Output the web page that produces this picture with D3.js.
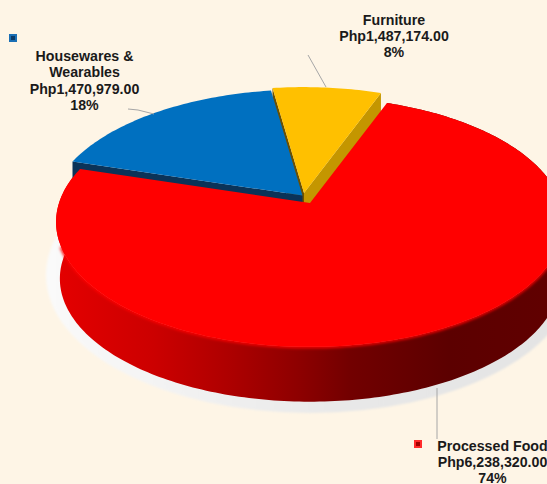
<!DOCTYPE html>
<html><head><meta charset="utf-8">
<script src="https://cdn.jsdelivr.net/npm/d3@7"></script>
<style>html,body{margin:0;padding:0;background:#fef5e6;overflow:hidden}svg{display:block}</style>
</head><body><svg id="c" width="547" height="484"></svg>
<script>
const categories = ["Processed Food", "Housewares & Wearables", "Furniture"];
const shares = [74, 18, 8];
const amounts = ["Php6,238,320.00", "Php1,470,979.00", "Php1,487,174.00"];
const percentLabels = ["74%", "18%", "8%"];
const topColors = ["#ff0000", "#0070c0", "#ffc000"];

const W = 547, H = 484;
const svg = d3.select("#c");
const defs = svg.append("defs");

// perspective disc
const apex = [310, 203], sx = 251, sy = 122, k = 0.152, depth = 57, shrink = 0.985;
const rad = d => d * Math.PI / 180;
function project(a, off, bottom) {
  const s = Math.sin(a), c = Math.cos(a), d = 1 + k * c;
  const f = bottom ? shrink : 1;
  return [apex[0] + off[0] + f * sx * s / d,
          apex[1] + off[1] - f * sy * c / d + (bottom ? depth : 0)];
}
const line = d3.line();
const pie = d3.pie().sort(null).startAngle(rad(20.5)).endAngle(rad(380.5));
const arcs = pie(shares);
const offsets = [[0, 0], [-7.5, -7.5], [-6, -10]];

function rim(a0, a1, off, bottom) {
  const n = Math.max(8, Math.ceil(Math.abs(a1 - a0) / rad(1)));
  return d3.range(n + 1).map(i => project(a0 + (a1 - a0) * i / n, off, bottom));
}
function topPath(i) {
  const a = arcs[i], o = offsets[i];
  return line([[apex[0] + o[0], apex[1] + o[1]], ...rim(a.startAngle, a.endAngle, o, false)]) + "Z";
}
function radialWall(angle, off) {
  const p0 = [apex[0] + off[0], apex[1] + off[1]], p1 = project(angle, off, false);
  return line([p0, p1, [p1[0], p1[1] + depth], [p0[0], p0[1] + depth]]) + "Z";
}

// gradients & filters
const wallGrad = defs.append("linearGradient").attr("id", "wall")
  .attr("gradientUnits", "userSpaceOnUse").attr("x1", 56).attr("x2", 547).attr("y1", 0).attr("y2", 0);
[[0, "#e40000"], [0.2, "#cc0000"], [0.35, "#ae0000"], [0.5, "#8c0000"], [0.6, "#720000"], [0.8, "#5c0000"], [1, "#600000"]]
  .forEach(s => wallGrad.append("stop").attr("offset", s[0]).attr("stop-color", s[1]));
const shGrad = defs.append("linearGradient").attr("id", "sh")
  .attr("gradientUnits", "userSpaceOnUse").attr("x1", 46).attr("x2", 547).attr("y1", 0).attr("y2", 0);
shGrad.append("stop").attr("offset", 0).attr("stop-color", "#fafafa");
shGrad.append("stop").attr("offset", 0.6).attr("stop-color", "#e8e8e8");
shGrad.append("stop").attr("offset", 1).attr("stop-color", "#e4e4e4");
defs.append("filter").attr("id", "b1").append("feGaussianBlur").attr("stdDeviation", 1.2);
const bevelFilter = defs.append("filter").attr("id", "b2")
  .attr("filterUnits", "userSpaceOnUse").attr("x", 0).attr("y", 230).attr("width", W).attr("height", 160);
bevelFilter.append("feGaussianBlur").attr("stdDeviation", 1.6);

// floor shadow
svg.append("ellipse").attr("cx", 310).attr("cy", 275).attr("rx", 264).attr("ry", 138)
  .attr("fill", "url(#sh)").attr("filter", "url(#b1)");

// red outer wall
const red = arcs[0];
svg.append("path")
  .attr("d", line([...rim(red.startAngle, red.endAngle, offsets[0], false),
                   ...rim(red.endAngle, red.startAngle, offsets[0], true)]) + "Z")
  .attr("fill", "url(#wall)");

// yellow and blue cut faces
const yel = arcs[2], blu = arcs[1];
svg.append("path").attr("d", radialWall(yel.startAngle, offsets[2])).attr("fill", "#6b5000");
svg.append("path").attr("d", radialWall(yel.endAngle, offsets[2])).attr("fill", "#c49600");
svg.append("path").attr("d", radialWall(blu.startAngle, offsets[1])).attr("fill", "#0b3358");

// top faces
svg.append("path").attr("d", topPath(1)).attr("fill", topColors[1]);
svg.append("path").attr("d", topPath(2)).attr("fill", topColors[2]);

// soft bevel where the red top meets its wall
svg.append("path").attr("d", line(rim(rad(95), rad(250), offsets[0], false)))
  .attr("fill", "none").attr("stroke", "#ff0000").attr("stroke-width", 3).attr("filter", "url(#b2)");
svg.append("path").attr("d", topPath(0)).attr("fill", topColors[0]);

// leaders
const leaders = [
  [[437, 388], [437, 439]],
  [[128, 109], [138, 110], [154, 114]],
  [[308, 55], [326, 87]]
];
leaders.forEach(l => svg.append("path").attr("d", line(l)).attr("fill", "none")
  .attr("stroke", "#a6a6a6").attr("stroke-width", 1));

// labels
const labelLines = [
  ["Processed Food", amounts[0], percentLabels[0]],
  ["Housewares &", "Wearables", amounts[1], percentLabels[1]],
  [categories[2], amounts[2], percentLabels[2]]
];
const labelPos = [[492.5, 450.5], [84.5, 61], [394, 24.5]];
labelLines.forEach((ls, i) => {
  const t = svg.append("text").attr("text-anchor", "middle")
    .attr("font-family", "'Liberation Sans', Arial, sans-serif").attr("font-weight", "bold")
    .attr("font-size", 14.2).attr("fill", "#1a1a1a");
  ls.forEach((s, j) => t.append("tspan").attr("x", labelPos[i][0])
    .attr("y", labelPos[i][1] + j * 16.4).text(s));
});

// legend keys
const keys = [[414, 440, "#ff2a2a", "#a00000"], [9, 34, "#1a6fb5", "#0a3a66"]];
keys.forEach(d => {
  svg.append("rect").attr("x", d[0]).attr("y", d[1]).attr("width", 8).attr("height", 8).attr("fill", d[2]);
  svg.append("rect").attr("x", d[0] + 2).attr("y", d[1] + 2).attr("width", 4).attr("height", 4).attr("fill", d[3]);
});
</script></body></html>
